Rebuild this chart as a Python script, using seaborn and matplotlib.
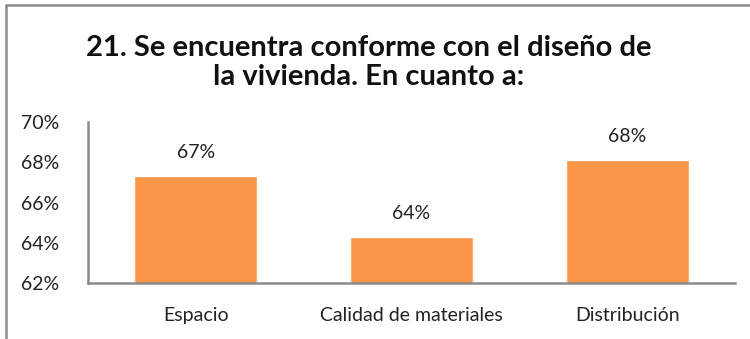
import matplotlib
matplotlib.use("Agg")
import matplotlib.pyplot as plt
from matplotlib.lines import Line2D
from matplotlib.ticker import FuncFormatter
import seaborn as sns
import pandas as pd

categories = ["Espacio", "Calidad de materiales", "Distribución"]
values = [0.673, 0.643, 0.681]
title = "21. Se encuentra conforme con el diseño de\nla vivienda. En cuanto a:"

sns.set_theme(style="white")
plt.rcParams["font.family"] = ["Lato", "DejaVu Sans"]

df = pd.DataFrame({"categoria": categories, "valor": values})

fig = plt.figure(figsize=(7.5, 3.39), dpi=100)
ax = fig.add_axes([0.1173, 0.165, 0.8627, 0.475])

sns.barplot(data=df, x="categoria", y="valor", color="#F79646", saturation=1,
            width=0.57, ax=ax)

ax.set_ylim(0.62, 0.70)
ax.set_yticks([0.62, 0.64, 0.66, 0.68, 0.70])
ax.yaxis.set_major_formatter(FuncFormatter(lambda v, _: f"{v*100:.0f}%"))
ax.set_xlim(-0.5, 2.5)
ax.set_xlabel("")
ax.set_ylabel("")
ax.tick_params(axis="both", length=0, labelsize=14, colors="#222222")
ax.tick_params(axis="y", pad=21)
ax.tick_params(axis="x", pad=17)

for side in ("top", "right"):
    ax.spines[side].set_visible(False)
for side in ("left", "bottom"):
    ax.spines[side].set_color("#8a8a8a")
    ax.spines[side].set_linewidth(1.8)

for patch, v in zip(ax.patches, values):
    ax.text(patch.get_x() + patch.get_width() / 2, v + 0.0075,
            f"{v*100:.0f}%", ha="center", va="bottom", fontsize=14,
            color="#222222")

fig.text(0.492, 0.815, title, ha="center", va="center", fontsize=21,
         fontweight="bold", linespacing=1.15, color="#111111")

# outer chart frame (top and left edges)
fig.add_artist(Line2D([0.008, 0.008], [0.0, 0.985], transform=fig.transFigure,
                      color="#8c8c8c", linewidth=1.8))
fig.add_artist(Line2D([0.008, 1.0], [0.985, 0.985], transform=fig.transFigure,
                      color="#8c8c8c", linewidth=1.8))

fig.savefig("out.png", dpi=100)
